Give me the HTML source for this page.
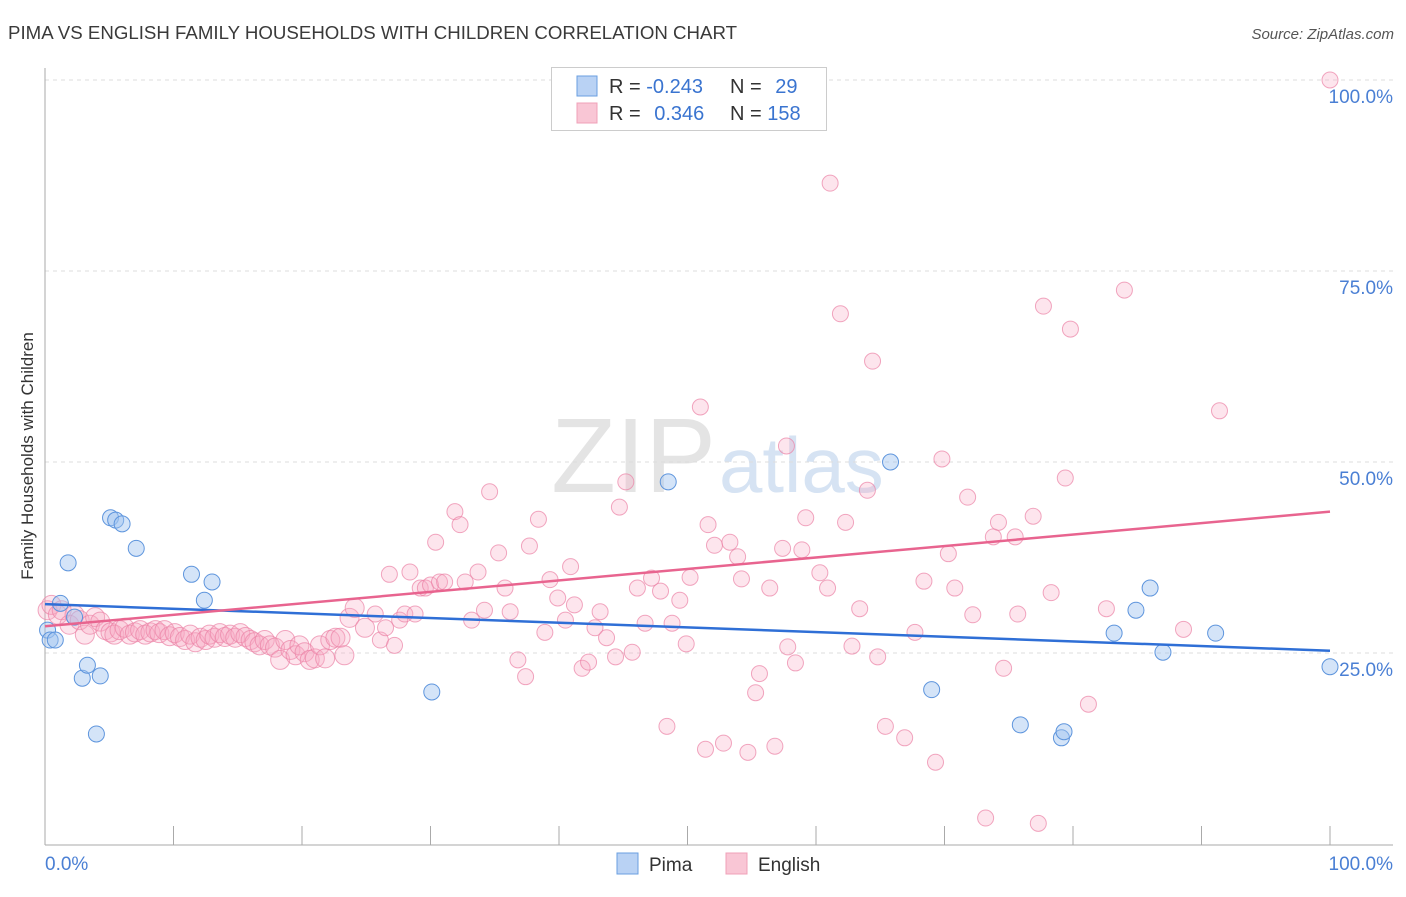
<!DOCTYPE html>
<html><head><meta charset="utf-8"><style>
body{margin:0;background:#fff;font-family:"Liberation Sans",sans-serif;}
svg text{font-family:"Liberation Sans",sans-serif;}
</style></head><body>
<svg id="chart" width="1406" height="892">
<text x="8" y="39" font-size="18" fill="#3a3a3a" textLength="729" lengthAdjust="spacingAndGlyphs">PIMA VS ENGLISH FAMILY HOUSEHOLDS WITH CHILDREN CORRELATION CHART</text>
<text x="1394" y="39" font-size="15" fill="#555" font-style="italic" text-anchor="end">Source: ZipAtlas.com</text>
<text transform="translate(33,456) rotate(-90)" font-size="17" fill="#333" text-anchor="middle">Family Households with Children</text>
<text x="716" y="492" font-size="106" fill="#e4e4e4" font-family="Liberation Serif" text-anchor="end">ZIP</text>
<text x="719" y="492" font-size="78" fill="#d6e3f3">atlas</text>
<g id="grid"></g><g id="axes"></g><g id="pts"></g><g id="trend"></g>
<g>
<rect x="551.5" y="67.5" width="275" height="63" fill="#fff" stroke="#ccc"/>
<rect x="577" y="76" width="20" height="20" fill="#b9d2f4" stroke="#6a9fe0"/>
<rect x="577" y="103" width="20" height="20" fill="#f9c6d5" stroke="#f0a0b8"/>
<text x="609" y="93" font-size="20" fill="#333">R = <tspan fill="#3a74d0">-0.243</tspan></text>
<text x="730" y="93" font-size="20" fill="#333">N = <tspan fill="#3a74d0" dx="8">29</tspan></text>
<text x="609" y="120" font-size="20" fill="#333">R = <tspan fill="#3a74d0" dx="8">0.346</tspan></text>
<text x="730" y="120" font-size="20" fill="#333">N = <tspan fill="#3a74d0">158</tspan></text>
</g>
<g>
<rect x="617" y="853" width="21" height="21" fill="#b9d2f4" stroke="#6a9fe0"/>
<text x="649" y="871" font-size="19" fill="#333">Pima</text>
<rect x="726" y="853" width="21" height="21" fill="#f9c6d5" stroke="#f0a0b8"/>
<text x="758" y="871" font-size="19" fill="#333">English</text>
</g>
</svg>
<script>
const yTicks=[25,50,75,100];
const yTickLabels=["25.0%","50.0%","75.0%","100.0%"];
const xTicks=[0,10,20,30,40,50,60,70,80,90,100];
const pimaX=[0.2,0.4,0.8,1.2,1.8,2.3,2.9,3.3,4.0,4.3,5.1,5.5,6.0,7.1,11.4,12.4,13.0,30.1,48.5,65.8,69.0,75.9,79.1,79.3,83.2,84.9,86.0,87.0,91.1,100];
const pimaY=[28.0,26.7,26.7,31.5,36.8,29.7,21.7,23.4,14.4,22.0,42.7,42.4,41.9,38.7,35.3,31.9,34.3,19.9,47.4,50.0,20.2,15.6,13.9,14.7,27.6,30.6,33.5,25.1,27.6,23.2];
const engX=[0.2,0.5,1.0,1.3,1.9,2.3,2.7,3.1,3.5,3.9,4.3,4.7,5.1,5.4,5.8,6.2,6.6,7.0,7.4,7.8,8.2,8.6,8.9,9.3,9.7,10.1,10.5,10.9,11.3,11.7,12.1,12.5,12.8,13.2,13.6,14.0,14.4,14.8,15.2,15.6,16.0,16.3,16.7,17.1,17.5,17.9,18.3,18.7,19.1,19.5,19.8,20.2,20.6,21.0,21.4,21.8,22.2,22.6,23.0,23.3,23.7,24.1,24.9,25.7,26.1,26.5,26.8,27.2,27.6,28.0,28.4,28.8,29.2,29.6,30.0,30.4,30.7,31.1,31.9,32.3,32.7,33.2,33.7,34.2,34.6,35.3,35.8,36.2,36.8,37.4,37.7,38.4,38.9,39.3,39.9,40.5,40.9,41.2,41.8,42.3,42.8,43.2,43.7,44.4,44.7,45.2,45.7,46.1,46.7,47.2,47.9,48.4,48.8,49.4,49.9,50.2,51.0,51.4,51.6,52.1,52.8,53.3,53.9,54.2,54.7,55.3,55.6,56.4,56.8,57.4,57.7,57.8,58.4,58.9,59.2,60.3,60.9,61.1,61.9,62.3,62.8,63.4,64.0,64.4,64.8,65.4,66.9,67.7,68.4,69.3,69.8,70.3,70.8,71.8,72.2,73.2,73.8,74.2,74.6,75.5,75.7,76.9,77.3,77.7,78.3,79.4,79.8,81.2,82.6,84.0,88.6,91.4,100];
const engY=[30.6,31.3,30.0,30.6,28.7,30.0,29.3,27.4,28.7,29.7,29.1,28.0,27.7,27.4,28.0,28.3,27.4,27.7,28.0,27.4,27.7,28.0,27.6,28.0,27.2,27.6,27.1,26.7,27.4,26.4,27.0,26.7,27.4,27.0,27.6,27.1,27.4,27.0,27.6,27.1,26.7,26.4,26.0,26.7,26.0,25.7,24.1,26.7,25.4,24.7,26.0,25.1,24.1,24.3,26.0,24.3,26.7,27.0,27.0,24.7,29.6,30.9,28.3,30.1,26.7,28.3,35.3,26.0,29.3,30.1,35.6,30.1,33.5,33.5,33.9,39.5,34.3,34.3,43.5,41.8,34.3,29.3,35.6,30.6,46.1,38.1,33.5,30.4,24.1,21.9,39.0,42.5,27.7,34.6,32.2,29.3,36.3,31.3,23.0,23.8,28.3,30.4,27.0,24.5,44.1,47.4,25.1,33.5,28.9,34.8,33.1,15.4,28.9,31.9,26.2,34.9,57.2,12.4,41.8,39.1,13.2,39.5,37.6,34.7,12.0,19.8,22.3,33.5,12.8,38.7,52.1,25.8,23.7,38.5,42.7,35.5,33.5,86.5,69.4,42.1,25.9,30.8,46.3,63.2,24.5,15.4,13.9,27.7,34.4,10.7,50.4,38.0,33.5,45.4,30.0,3.4,40.2,42.1,23.0,40.2,30.1,42.9,2.7,70.4,32.9,47.9,67.4,18.3,30.8,72.5,28.1,56.7,100];
const pimaTrend=[31.4,25.3];
const engTrend=[28.5,43.5];
const X0=45,X1=1330,Y0=844,Y100=80;
const sx=v=>X0+(X1-X0)*v/100, sy=v=>Y0-(Y0-Y100)*v/100;
const NS="http://www.w3.org/2000/svg";
function mk(tag,attrs,parent){const e=document.createElementNS(NS,tag);for(const k in attrs)e.setAttribute(k,attrs[k]);document.getElementById(parent).appendChild(e);return e;}
yTicks.forEach((t,i)=>{
 const l=mk('line',{x1:X0,x2:1393,y1:sy(t),y2:sy(t),stroke:'#ddd','stroke-dasharray':'4,4'},'grid');
 
 
 const tx=mk('text',{x:1393,y:sy(t)+23,'font-size':19,fill:'#4a7fd4','text-anchor':'end'},'grid');
 tx.textContent=yTickLabels[i];
 
 
});
const ax=mk('line',{x1:X0,x2:X0,y1:68,y2:845,stroke:'#aaa'},'axes');


const bx=mk('line',{x1:X0,x2:1393,y1:845,y2:845,stroke:'#aaa'},'axes');


xTicks.forEach(t=>{const l=mk('line',{x1:sx(t),x2:sx(t),y1:826,y2:845,stroke:'#aaa'},'axes');
 
 });
const xl=mk('text',{x:45,y:870,'font-size':19,fill:'#4a7fd4'},'axes');xl.textContent='0.0%';


const xr=mk('text',{x:1393,y:870,'font-size':19,fill:'#4a7fd4','text-anchor':'end'},'axes');xr.textContent='100.0%';


engX.forEach((v,i)=>{const c=mk('circle',{cx:sx(v),cy:sy(engY[i]),r:v<25?9.5:8,fill:'rgba(247,170,195,0.3)',stroke:'rgba(235,130,165,0.7)','stroke-width':1},'pts');
 
 });
pimaX.forEach((v,i)=>{const c=mk('circle',{cx:sx(v),cy:sy(pimaY[i]),r:8,fill:'rgba(160,195,240,0.45)',stroke:'#5e95dd','stroke-width':1},'pts');
 
 });
const tp=mk('line',{x1:sx(0),x2:sx(100),y1:sy(pimaTrend[0]),y2:sy(pimaTrend[1]),stroke:'#2f6fd6','stroke-width':2.5},'trend');


const te=mk('line',{x1:sx(0),x2:sx(100),y1:sy(engTrend[0]),y2:sy(engTrend[1]),stroke:'#e8648f','stroke-width':2.5},'trend');


</script>
</body></html>
